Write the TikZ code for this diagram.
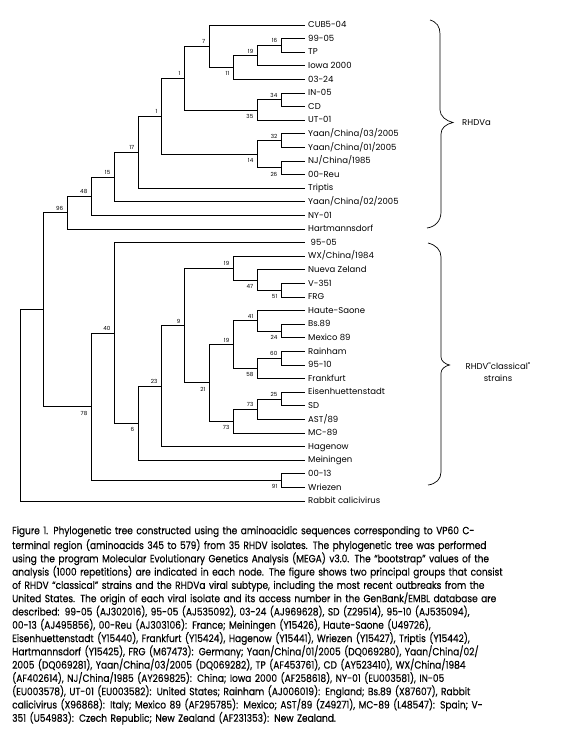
\documentclass[tikz,border=0pt]{standalone}
\usepackage{fontspec}
\setmainfont{Poppins}
\newfontfamily\capfont{Poppins}[FakeStretch=0.86, FakeBold=0.25]
\newfontfamily\treefont{Poppins}
\usetikzlibrary{calc}
\newcommand\bsup[2]{\node[bs] (b#1) at ([xshift=-3.5pt,yshift=4.5pt]#1) {#2};}
\newcommand\bsdn[2]{\node[bs] (b#1) at ([xshift=-3.5pt,yshift=-6.3pt]#1) {#2};}
\begin{document}
\begin{tikzpicture}[x=1pt,y=-1pt,
  br/.style={line width=0.8pt},
  leaf/.style={anchor=west, inner xsep=3pt, inner ysep=0pt, font=\treefont\fontsize{8.5}{9}\selectfont, text height=5.5pt, text depth=0pt},
  bs/.style={anchor=east, inner sep=0pt, font=\treefont\fontsize{5.6}{6}\selectfont},
  brc/.style={line width=0.7pt},
  grp/.style={inner sep=0pt, font=\treefont\fontsize{8.5}{12}\selectfont, align=center}]
\fill[white] (0,0) rectangle (560,735);
\useasboundingbox (0,0) rectangle (560,735);
% leaves
\node[leaf] (l0) at (305,25.0) {CUB5-04};
\node[leaf] (l1) at (305,38.6) {99-05};
\node[leaf] (l2) at (305,52.2) {TP};
\node[leaf] (l3) at (305,65.8) {Iowa 2000};
\node[leaf] (l4) at (305,79.4) {03-24};
\node[leaf] (l5) at (305,93.0) {IN-05};
\node[leaf] (l6) at (305,106.6) {CD};
\node[leaf] (l7) at (305,120.2) {UT-01};
\node[leaf] (l8) at (305,133.8) {Yaan/China/03/2005};
\node[leaf] (l9) at (305,147.4) {Yaan/China/01/2005};
\node[leaf] (l10) at (305,161.0) {NJ/China/1985};
\node[leaf] (l11) at (305,174.6) {00-Reu};
\node[leaf] (l12) at (305,188.2) {Triptis};
\node[leaf] (l13) at (305,201.8) {Yaan/China/02/2005};
\node[leaf] (l14) at (305,215.4) {NY-01};
\node[leaf] (l15) at (305,229.0) {Hartmannsdorf};
\node[leaf] (l16) at (305,242.6) {\hspace*{2.5pt}95-05};
\node[leaf] (l17) at (305,256.2) {WX/China/1984};
\node[leaf] (l18) at (305,269.8) {Nueva Zeland};
\node[leaf] (l19) at (305,283.4) {V-351};
\node[leaf] (l20) at (305,297.0) {FRG};
\node[leaf] (l21) at (305,310.6) {Haute-Saone};
\node[leaf] (l22) at (305,324.2) {Bs.89};
\node[leaf] (l23) at (305,337.8) {Mexico 89};
\node[leaf] (l24) at (305,351.4) {Rainham};
\node[leaf] (l25) at (305,365.0) {95-10};
\node[leaf] (l26) at (305,378.6) {Frankfurt};
\node[leaf] (l27) at (305,392.2) {Eisenhuettenstadt};
\node[leaf] (l28) at (305,405.8) {SD};
\node[leaf] (l29) at (305,419.4) {AST/89};
\node[leaf] (l30) at (305,433.0) {MC-89};
\node[leaf] (l31) at (305,446.6) {Hagenow};
\node[leaf] (l32) at (305,460.2) {Meiningen};
\node[leaf] (l33) at (305,473.8) {00-13};
\node[leaf] (l34) at (305,487.4) {Wriezen};
\node[leaf] (l35) at (305,501.0) {Rabbit calicivirus};
% internal nodes
\coordinate (a16) at (281,45.4);
\coordinate (a19) at (257,55.6);
\coordinate (a11) at (233,67.5);
\coordinate (a7) at (209,46.25);
\coordinate (a34) at (281,99.8);
\coordinate (a35) at (257,110.0);
\coordinate (a1u) at (184,78.13);
\coordinate (a32) at (281,140.6);
\coordinate (a26) at (281,167.8);
\coordinate (a14) at (257,154.2);
\coordinate (a1l) at (161,116.16);
\coordinate (a17) at (138,152.18);
\coordinate (a15) at (114,176.99);
\coordinate (a48) at (91,196.2);
\coordinate (a96) at (67,212.6);
\coordinate (a51) at (281,290.2);
\coordinate (a47) at (257,280.0);
\coordinate (a19c) at (233,268.1);
\coordinate (a24) at (281,331.0);
\coordinate (a41) at (257,320.8);
\coordinate (a60) at (281,358.2);
\coordinate (a58) at (257,368.4);
\coordinate (a19d) at (233,344.6);
\coordinate (a25) at (281,399.0);
\coordinate (a73u) at (257,409.2);
\coordinate (a73l) at (233,421.1);
\coordinate (a21) at (209,382.85);
\coordinate (a9) at (184,325.5);
\coordinate (a23) at (161,386.05);
\coordinate (a6) at (138,423.1);
\coordinate (a40) at (114,332.9);
\coordinate (a91) at (281,480.6);
\coordinate (a78) at (91,406.75);
\coordinate (n43) at (43,309.7);
\coordinate (root) at (20,405.3);
% branches
\draw[br] (a16) |- (l1.west) (a16) |- (l2.west);
\draw[br] (a19) |- (a16) (a19) |- (l3.west);
\draw[br] (a11) |- (a19) (a11) |- (l4.west);
\draw[br] (a7) |- (l0.west) (a7) |- (a11);
\draw[br] (a34) |- (l5.west) (a34) |- (l6.west);
\draw[br] (a35) |- (a34) (a35) |- (l7.west);
\draw[br] (a1u) |- (a7) (a1u) |- (a35);
\draw[br] (a32) |- (l8.west) (a32) |- (l9.west);
\draw[br] (a26) |- (l10.west) (a26) |- (l11.west);
\draw[br] (a14) |- (a32) (a14) |- (a26);
\draw[br] (a1l) |- (a1u) (a1l) |- (a14);
\draw[br] (a17) |- (a1l) (a17) |- (l12.west);
\draw[br] (a15) |- (a17) (a15) |- (l13.west);
\draw[br] (a48) |- (a15) (a48) |- (l14.west);
\draw[br] (a96) |- (a48) (a96) |- (l15.west);
\draw[br] (a51) |- (l19.west) (a51) |- (l20.west);
\draw[br] (a47) |- (l18.west) (a47) |- (a51);
\draw[br] (a19c) |- (l17.west) (a19c) |- (a47);
\draw[br] (a24) |- (l22.west) (a24) |- (l23.west);
\draw[br] (a41) |- (l21.west) (a41) |- (a24);
\draw[br] (a60) |- (l24.west) (a60) |- (l25.west);
\draw[br] (a58) |- (a60) (a58) |- (l26.west);
\draw[br] (a19d) |- (a41) (a19d) |- (a58);
\draw[br] (a25) |- (l27.west) (a25) |- (l28.west);
\draw[br] (a73u) |- (a25) (a73u) |- (l29.west);
\draw[br] (a73l) |- (a73u) (a73l) |- (l30.west);
\draw[br] (a21) |- (a19d) (a21) |- (a73l);
\draw[br] (a9) |- (a19c) (a9) |- (a21);
\draw[br] (a23) |- (a9) (a23) |- (l31.west);
\draw[br] (a6) |- (a23) (a6) |- (l32.west);
\draw[br] (a40) |- (l16.west) (a40) |- (a6);
\draw[br] (a91) |- (l33.west) (a91) |- (l34.west);
\draw[br] (a78) |- (a40) (a78) |- (a91);
\draw[br] (n43) |- (a96) (n43) |- (a78);
\draw[br] (root) |- (n43) (root) |- (l35.west);
% bootstrap values
\bsup{a16}{16}
\bsup{a19}{19}
\bsdn{a11}{11}
\bsup{a7}{7}
\bsup{a34}{34}
\bsdn{a35}{35}
\bsup{a1u}{1}
\bsup{a32}{32}
\bsdn{a26}{26}
\bsdn{a14}{14}
\bsup{a1l}{1}
\bsup{a17}{17}
\bsup{a15}{15}
\bsup{a48}{48}
\bsup{a96}{96}
\bsdn{a51}{51}
\bsdn{a47}{47}
\bsup{a19c}{19}
\bsdn{a24}{24}
\bsup{a41}{41}
\bsup{a60}{60}
\bsdn{a58}{58}
\bsup{a19d}{19}
\bsup{a25}{25}
\bsup{a73u}{73}
\bsdn{a73l}{73}
\bsdn{a21}{21}
\bsup{a9}{9}
\bsup{a23}{23}
\bsdn{a6}{6}
\bsup{a40}{40}
\bsdn{a91}{91}
\bsdn{a78}{78}
% braces
\draw[brc] (430,20) .. controls (437,22) and (440,27) .. (440,34) -- (440,110) .. controls (440,116) and (446,121) .. (453,122.5) .. controls (446,124) and (441,128) .. (441,134) -- (441,212) .. controls (441,221) and (435,227) .. (427,228);
\draw[brc] (428,243) .. controls (436,245) and (441,250) .. (441,257) -- (441,357) .. controls (441,361) and (445,364) .. (449.5,365) .. controls (445,366) and (441,369) .. (441,373) -- (441,472) .. controls (441,479) and (436,484) .. (428,485);
\node[grp, anchor=west] (ga) at (462,122.5) {RHDVa};
\node[grp] (gc) at (498,372) {RHDV"classical"\\strains};
% caption
\node[anchor=north west, inner sep=0pt, text width=539pt, align=left, font=\capfont\fontsize{10.5}{13.29}\selectfont] (cap) at (12,524.7) {%
\makebox[539pt][s]{\strut Figure 1. Phylogenetic tree constructed using the aminoacidic sequences corresponding to VP60 C-}\\
\makebox[539pt][s]{terminal region (aminoacids 345 to 579) from 35 RHDV isolates. The phylogenetic tree was performed}\\
\makebox[539pt][s]{using the program Molecular Evolutionary Genetics Analysis (MEGA) v3.0. The “bootstrap” values of the}\\
\makebox[539pt][s]{analysis (1000 repetitions) are indicated in each node. The figure shows two principal groups that consist}\\
\makebox[539pt][s]{of RHDV “classical” strains and the RHDVa viral subtype, including the most recent outbreaks from the}\\
\makebox[539pt][s]{United States. The origin of each viral isolate and its access number in the GenBank/EMBL database are}\\
\makebox[539pt][s]{described: 99-05 (AJ302016), 95-05 (AJ535092), 03-24 (AJ969628), SD (Z29514), 95-10 (AJ535094),}\\
\makebox[539pt][s]{00-13 (AJ495856), 00-Reu (AJ303106): France; Meiningen (Y15426), Haute-Saone (U49726),}\\
\makebox[539pt][s]{Eisenhuettenstadt (Y15440), Frankfurt (Y15424), Hagenow (Y15441), Wriezen (Y15427), Triptis (Y15442),}\\
\makebox[539pt][s]{Hartmannsdorf (Y15425), FRG (M67473): Germany; Yaan/China/01/2005 (DQ069280), Yaan/China/02/}\\
\makebox[539pt][s]{2005 (DQ069281), Yaan/China/03/2005 (DQ069282), TP (AF453761), CD (AY523410), WX/China/1984}\\
\makebox[539pt][s]{(AF402614), NJ/China/1985 (AY269825): China; Iowa 2000 (AF258618), NY-01 (EU003581), IN-05}\\
\makebox[539pt][s]{(EU003578), UT-01 (EU003582): United States; Rainham (AJ006019): England; Bs.89 (X87607), Rabbit}\\
\makebox[539pt][s]{calicivirus (X96868): Italy; Mexico 89 (AF295785): Mexico; AST/89 (Z49271), MC-89 (L48547): Spain; V-}\\
351 (U54983): Czech Republic; New Zealand (AF231353): New Zealand.};
\end{tikzpicture}
\end{document}
